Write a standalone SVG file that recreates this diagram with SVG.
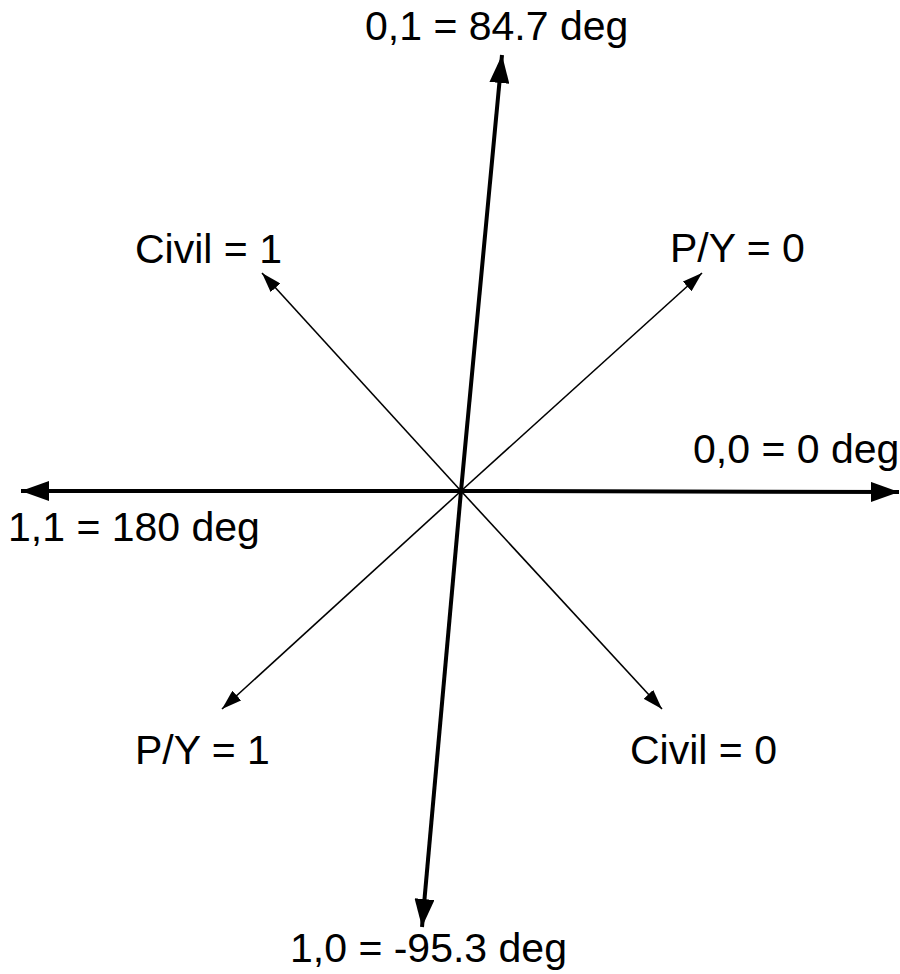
<svg xmlns="http://www.w3.org/2000/svg" width="900" height="974" viewBox="0 0 900 974">
<defs>
<style>
text{font-family:"Liberation Sans",Arial,sans-serif;font-size:41px;fill:#000}
.thick{stroke:#000;stroke-width:4;fill:none}
.thin{stroke:#000;stroke-width:1.6;fill:none}
</style>
<marker id="big" viewBox="0 0 28 20" refX="28" refY="10" markerWidth="28" markerHeight="20" markerUnits="userSpaceOnUse" orient="auto"><path d="M0,0 L28,10 L0,20 Z" fill="#000"/></marker>
<marker id="small" viewBox="0 0 20 13" refX="20" refY="6.5" markerWidth="20" markerHeight="13" markerUnits="userSpaceOnUse" orient="auto"><path d="M0,0 L20,6.5 L0,13 Z" fill="#000"/></marker>
</defs>
<rect width="900" height="974" fill="#fff"/>
<g id="connectors">
<line class="thick" x1="461" y1="491" x2="899" y2="492" marker-end="url(#big)"/>
<line class="thick" x1="461" y1="491" x2="21" y2="491" marker-end="url(#big)"/>
<line class="thick" x1="461" y1="491" x2="502" y2="55" marker-end="url(#big)"/>
<line class="thick" x1="461" y1="491" x2="422" y2="927" marker-end="url(#big)"/>
<line class="thin" x1="461" y1="491" x2="262" y2="273" marker-end="url(#small)"/>
<line class="thin" x1="461" y1="491" x2="702" y2="273" marker-end="url(#small)"/>
<line class="thin" x1="461" y1="491" x2="222" y2="709" marker-end="url(#small)"/>
<line class="thin" x1="461" y1="491" x2="662" y2="709" marker-end="url(#small)"/>
</g>
<g id="label-top"><text x="365" y="40">0,1 = 84.7 deg</text></g>
<g id="label-civil1"><text x="135" y="263">Civil = 1</text></g>
<g id="label-py0"><text x="670" y="262">P/Y = 0</text></g>
<g id="label-right"><text x="693" y="463">0,0 = 0 deg</text></g>
<g id="label-left"><text x="8" y="541">1,1 = 180 deg</text></g>
<g id="label-py1"><text x="135" y="764">P/Y = 1</text></g>
<g id="label-civil0"><text x="630" y="764">Civil = 0</text></g>
<g id="label-bottom"><text x="290" y="962">1,0 = -95.3 deg</text></g>
</svg>
